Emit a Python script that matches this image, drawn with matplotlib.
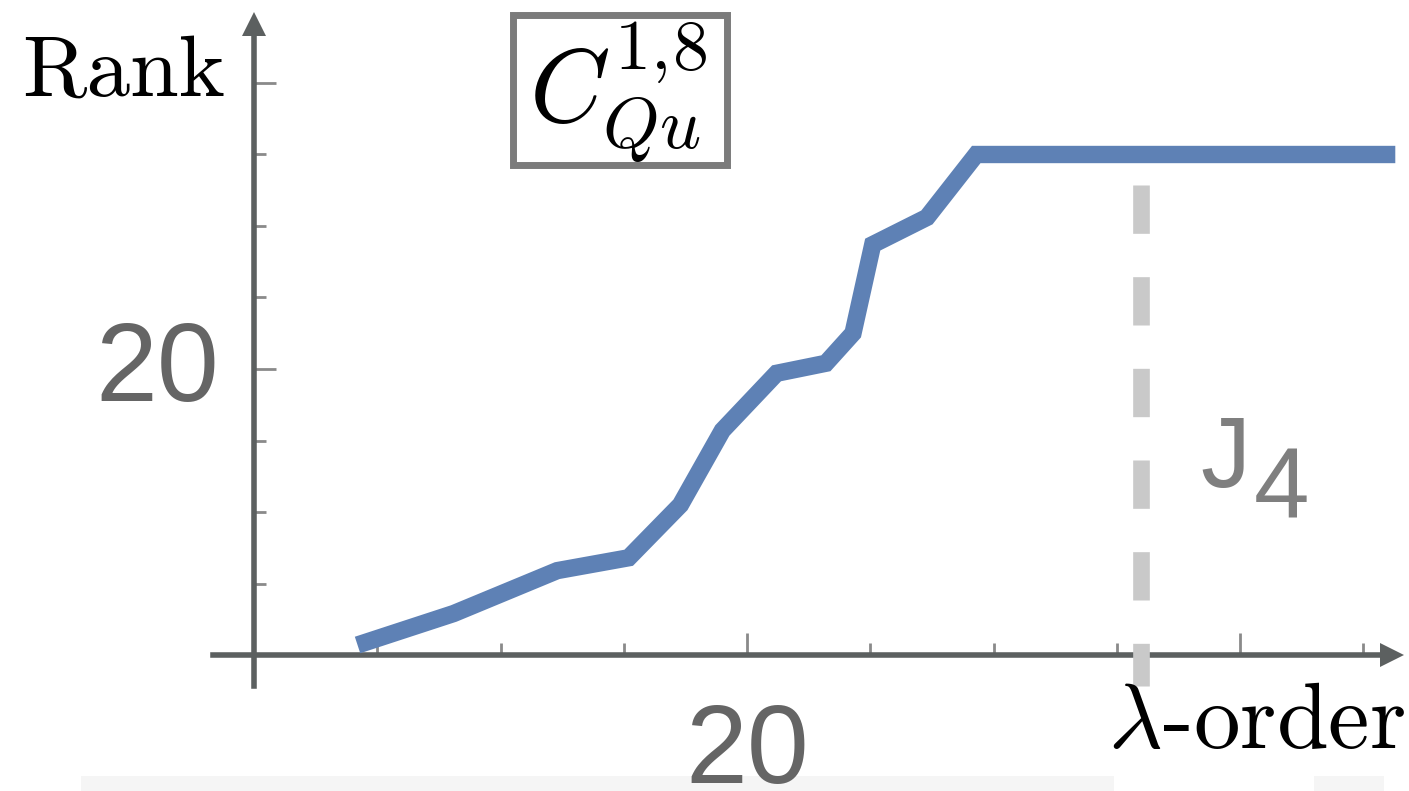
import matplotlib
matplotlib.use("Agg")
import matplotlib.pyplot as plt
from matplotlib.ticker import FixedLocator, FixedFormatter, NullFormatter
from matplotlib.patches import Rectangle
from matplotlib.transforms import ScaledTranslation

plt.rcParams['mathtext.fontset'] = 'cm'

# ---- data ----
lam_order = [4.2, 8.1, 12.3, 15.2, 17.3, 19.0, 21.2, 23.2, 24.3, 25.1, 27.3, 29.3, 46.3]
rank = [0.7, 2.9, 5.9, 6.8, 10.5, 15.7, 19.7, 20.4, 22.5, 28.7, 30.6, 35.0, 35.0]
j4_order = 36.0
x_major = [20, 40]
x_major_labels = ['20', '']
x_minor = [5, 10, 15, 25, 30, 35, 45]
y_major = [20, 40]
y_major_labels = ['20', '']
y_minor = [5, 10, 15, 25, 30, 35]

AX_COL = '#5c6060'
TICK_COL = '#8a8a8a'
LBL_COL = '#656565'

W, H = 1409, 791
fig = plt.figure(figsize=(W / 100, H / 100), dpi=100)
ax = fig.add_axes([0, 0, 1, 1])
ax.patch.set_alpha(0)

px_x, px_y = 24.65, 14.3  # pixels per unit
ax.set_xlim(-254 / px_x, (W - 254) / px_x)
ax.set_ylim(-(H - 655) / px_y, 655 / px_y)

for s in ['top', 'right']:
    ax.spines[s].set_visible(False)
for s in ['left', 'bottom']:
    ax.spines[s].set_position(('data', 0))
    ax.spines[s].set_color(AX_COL)
    ax.spines[s].set_linewidth(4.0)
    ax.spines[s].set_zorder(2.5)
ax.spines['left'].set_bounds(-2.2, 43.4)
ax.spines['bottom'].set_bounds(-1.66, 45.7)

# arrow heads
ax.plot([0], [44.1], marker='^', markersize=17, color=AX_COL, mew=0, clip_on=False, zorder=2.6)
ax.plot([46.15], [0], marker='>', markersize=17, color=AX_COL, mew=0, clip_on=False, zorder=2.6)

# ticks
ax.xaxis.set_major_locator(FixedLocator(x_major))
ax.xaxis.set_major_formatter(FixedFormatter(x_major_labels))
ax.xaxis.set_minor_locator(FixedLocator(x_minor))
ax.xaxis.set_minor_formatter(NullFormatter())
ax.yaxis.set_major_locator(FixedLocator(y_major))
ax.yaxis.set_major_formatter(FixedFormatter(y_major_labels))
ax.yaxis.set_minor_locator(FixedLocator(y_minor))
ax.yaxis.set_minor_formatter(NullFormatter())

ax.tick_params(which='both', direction='in', color=TICK_COL, width=2.0)
ax.tick_params(which='major', length=16)
ax.tick_params(which='minor', length=8.5)
ax.tick_params(axis='x', which='major', pad=34, labelsize=80, labelcolor=LBL_COL)
ax.tick_params(axis='y', which='major', pad=25, labelsize=80, labelcolor=LBL_COL)
for lab in ax.get_xticklabels() + ax.get_yticklabels():
    lab.set_fontfamily('Liberation Sans')
for lab in ax.get_yticklabels():
    lab.set_transform(lab.get_transform() + ScaledTranslation(0, 8 / 100, fig.dpi_scale_trans))

# data line
ax.plot(lam_order, rank, color='#5e81b5', lw=12.5, solid_capstyle='butt',
        solid_joinstyle='miter', zorder=3)

# J4 dashed marker line
ax.plot([j4_order, j4_order], [32.9, -2.2], color='#c9c9c9', lw=12,
        dashes=(2.9, 2.6), dash_capstyle='butt', zorder=4, clip_on=False)
ax.text(1200 / W, 1 - 487 / H, 'J', transform=fig.transFigure, fontsize=72,
        family='Liberation Sans', color='#7f7f7f', ha='left', va='baseline')
ax.text(1254 / W, 1 - 519 / H, '4', transform=fig.transFigure, fontsize=72,
        family='Liberation Sans', color='#7f7f7f', ha='left', va='baseline')

# axis labels
fig.text(22 / W, 1 - 96 / H, 'Rank', fontsize=63, family='cmr10', color='black',
         ha='left', va='baseline')
fig.text(1405 / W, 1 - 748 / H, r'$\lambda$-order', fontsize=67, family='cmr10',
         color='black', ha='right', va='baseline')

# coefficient box
fig.patches.append(Rectangle((513 / W, 1 - 165 / H), 214 / W, 150 / H,
                             transform=fig.transFigure, fill=False,
                             edgecolor='#7b7b7b', linewidth=5))
fig.text(618 / W, 1 - 92 / H, r'$C^{1,\!8}_{Qu}$', fontsize=74, color='black',
         ha='center', va='center')

# faint band at bottom of the reference image
for x0, x1 in [(81, 1114), (1314, 1384)]:
    fig.patches.append(Rectangle((x0 / W, 0), (x1 - x0) / W, 15 / H,
                                 transform=fig.transFigure, facecolor='#f5f5f5',
                                 edgecolor='none', zorder=-1))

fig.savefig('out.png', dpi=100)
